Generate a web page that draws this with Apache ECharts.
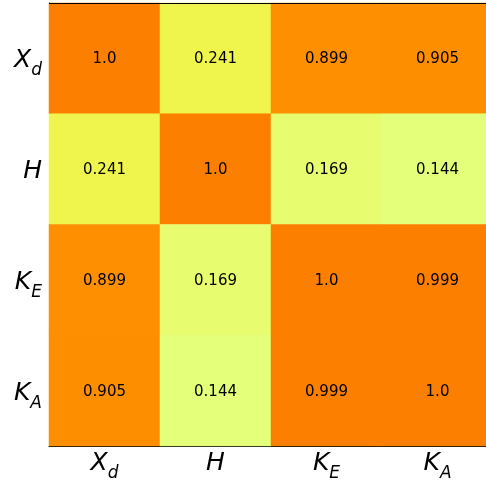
<!DOCTYPE html>
<html><head><meta charset="utf-8">
<script src="https://cdn.jsdelivr.net/npm/echarts@6/dist/echarts.min.js"></script>
<style>html,body{margin:0;padding:0;background:#fff}#c{width:486px;height:483px}</style>
</head><body><div id="c"></div>
<script>
const categories = [['X','d'],['H',''],['K','E'],['K','A']];
const matrix = [
  [1.0, 0.241, 0.899, 0.905],
  [0.241, 1.0, 0.169, 0.144],
  [0.899, 0.169, 1.0, 0.999],
  [0.905, 0.144, 0.999, 1.0]
];
const valueLabels = [
  ['1.0','0.241','0.899','0.905'],
  ['0.241','1.0','0.169','0.144'],
  ['0.899','0.169','1.0','0.999'],
  ['0.905','0.144','0.999','1.0']
];
const catNames = categories.map(c => c[0] + '_' + c[1]);
const data = [];
for (let r = 0; r < 4; r++) for (let c = 0; c < 4; c++) data.push([c, r, matrix[r][c], valueLabels[r][c]]);
function fmt(v){
  const c = categories[catNames.indexOf(v)];
  return '{i|' + c[0] + '}' + (c[1] ? '{s|' + c[1] + '}' : '');
}
const rich = {
  i:{fontFamily:'DejaVu Sans',fontStyle:'italic',fontSize:25,color:'#000',lineHeight:30,verticalAlign:'bottom'},
  s:{fontFamily:'DejaVu Sans',fontStyle:'italic',fontSize:17,color:'#000',lineHeight:30,verticalAlign:'bottom',padding:[0,0,-6,0]}
};
const chart = echarts.init(document.getElementById('c'), null, {renderer:'canvas'});
chart.setOption({
  animation:false,
  grid:{left:49,top:3,width:444,height:443,containLabel:false,outerBoundsMode:'none'},
  xAxis:{type:'category',data:catNames,position:'bottom',
    axisLine:{show:true,lineStyle:{color:'#000',width:1}},axisTick:{show:false},
    axisLabel:{formatter:fmt,rich:rich,margin:0},splitLine:{show:false}},
  yAxis:{type:'category',data:catNames,inverse:true,
    axisLine:{show:true,lineStyle:{color:'#000',width:1}},axisTick:{show:false},
    axisLabel:{formatter:fmt,rich:rich,margin:7},splitLine:{show:false}},
  visualMap:{show:false,min:0.144,max:1.0,dimension:2,
    inRange:{color:['#e4ff7a','#ffe81a','#ffbd00','#ffa000','#fc7f00']}},
  series:[{type:'heatmap',data:data,
    label:{show:true,formatter:p=>p.data[3],color:'#000',fontFamily:'DejaVu Sans',fontSize:15,offset:[0,1]},
    itemStyle:{borderWidth:0}}],
  graphic:[{type:'line',shape:{x1:49,y1:3.5,x2:493,y2:3.5},style:{stroke:'#000',lineWidth:1},z:100}]
});
</script></body></html>
